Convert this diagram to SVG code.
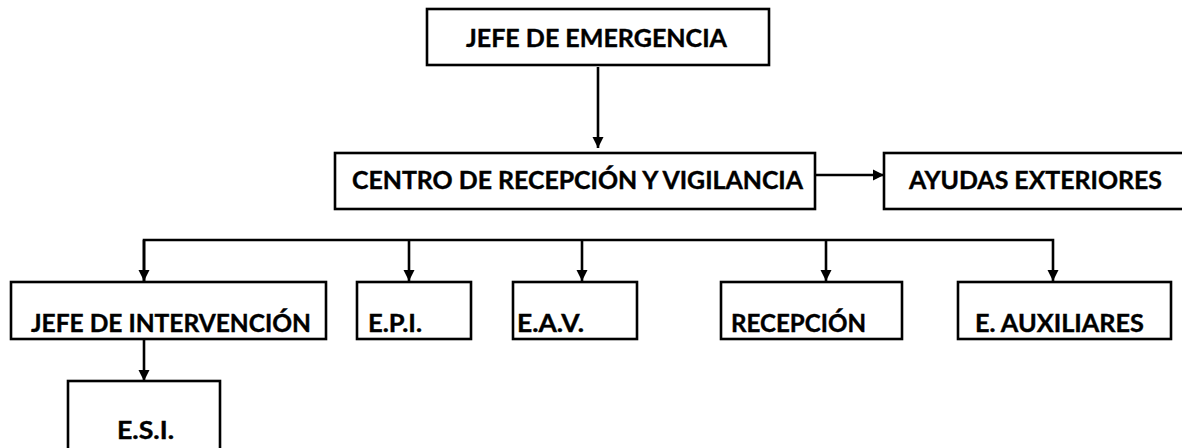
<svg xmlns="http://www.w3.org/2000/svg" width="1182" height="448" viewBox="0 0 1182 448">
<style>
.box{fill:#fff;stroke:#000;stroke-width:2.6}
.lbl{font-family:Lato,"Liberation Sans",sans-serif;font-weight:bold;font-size:25px;fill:#000;stroke:#000;stroke-width:0.4}
.con{fill:none;stroke:#000;stroke-width:2.6}
</style>
<defs>
<marker id="ah" markerUnits="userSpaceOnUse" markerWidth="12" markerHeight="12" viewBox="0 0 12 12" refX="11" refY="6" orient="auto">
<path d="M0,0.5 L11,6 L0,11.5 Z" fill="#000"/>
</marker>
</defs>
<rect width="1182" height="448" fill="#fff"/>
<g id="connectors">
<line class="con" x1="598" y1="67" x2="598" y2="148" marker-end="url(#ah)"/>
<line class="con" x1="815" y1="175" x2="884" y2="175" marker-end="url(#ah)"/>
<polyline class="con" points="144,281 144,240 1053,240 1053,281" marker-end="url(#ah)"/>
<line class="con" x1="409" y1="240" x2="409" y2="281" marker-end="url(#ah)"/>
<line class="con" x1="582" y1="240" x2="582" y2="281" marker-end="url(#ah)"/>
<line class="con" x1="826" y1="240" x2="826" y2="281" marker-end="url(#ah)"/>
<line class="con" x1="144" y1="240" x2="144" y2="281" marker-end="url(#ah)"/>
<line class="con" x1="144" y1="339" x2="144" y2="381" marker-end="url(#ah)"/>
</g>
<g id="jefe-emergencia">
<rect class="box" x="427" y="9" width="342" height="56"/>
<text class="lbl" x="466" y="47" textLength="261" lengthAdjust="spacingAndGlyphs">JEFE DE EMERGENCIA</text>
</g>
<g id="centro">
<rect class="box" x="335" y="153" width="480" height="56"/>
<text class="lbl" x="352" y="189" textLength="451" lengthAdjust="spacingAndGlyphs">CENTRO DE RECEPCIÓN Y VIGILANCIA</text>
</g>
<g id="ayudas">
<rect class="box" x="884" y="153" width="310" height="56"/>
<text class="lbl" x="909" y="189" textLength="253" lengthAdjust="spacingAndGlyphs">AYUDAS EXTERIORES</text>
</g>
<g id="jefe-intervencion">
<rect class="box" x="11" y="282" width="315" height="57"/>
<text class="lbl" x="31" y="332" textLength="280" lengthAdjust="spacingAndGlyphs">JEFE DE INTERVENCIÓN</text>
</g>
<g id="epi">
<rect class="box" x="357" y="282" width="114" height="57"/>
<text class="lbl" x="368" y="332" textLength="54" lengthAdjust="spacingAndGlyphs">E.P.I.</text>
</g>
<g id="eav">
<rect class="box" x="513" y="282" width="124" height="57"/>
<text class="lbl" x="517" y="332" textLength="67" lengthAdjust="spacingAndGlyphs">E.A.V.</text>
</g>
<g id="recepcion">
<rect class="box" x="721" y="282" width="181" height="57"/>
<text class="lbl" x="731" y="332" textLength="135" lengthAdjust="spacingAndGlyphs">RECEPCIÓN</text>
</g>
<g id="auxiliares">
<rect class="box" x="958" y="282" width="213" height="57"/>
<text class="lbl" x="975" y="332" textLength="169" lengthAdjust="spacingAndGlyphs">E. AUXILIARES</text>
</g>
<g id="esi">
<rect class="box" x="68" y="381" width="152" height="80"/>
<text class="lbl" x="117" y="439" textLength="57" lengthAdjust="spacingAndGlyphs">E.S.I.</text>
</g>
</svg>
